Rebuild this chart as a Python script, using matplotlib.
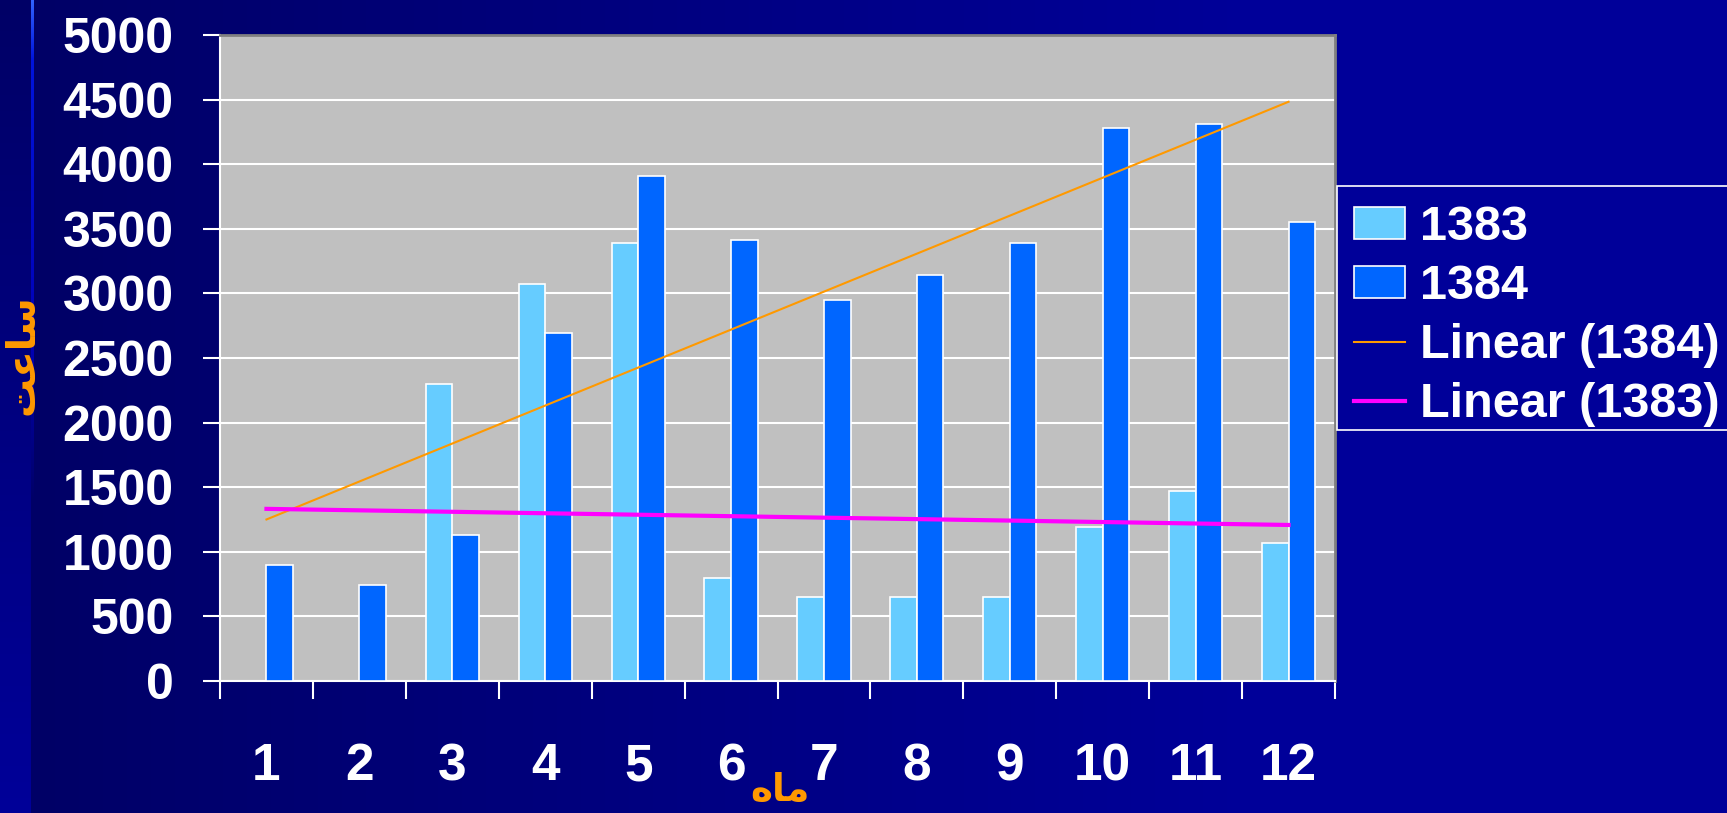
import numpy as np
import matplotlib.pyplot as plt
from matplotlib.patches import Rectangle

# monthly hours for the two years
months = np.arange(1, 13)
month_labels = [str(m) for m in months]
hours_1383 = np.array([0, 0, 2300, 3070, 3390, 800, 650, 650, 650, 1190, 1470, 1070])
hours_1384 = np.array([900, 740, 1130, 2690, 3910, 3410, 2950, 3140, 3390, 4280, 4310, 3550])
series_names = ["1383", "1384"]
trend_names = ["Linear (1384)", "Linear (1383)"]
y_ticks = np.arange(0, 5001, 500)

# axis titles, pre-shaped (Arabic presentation forms in visual order)
# because matplotlib does no shaping of its own
x_title = "\ufee9\ufe8e\ufee3"          # ماه
y_title = "\ufe96\ufecb\ufe8e\ufeb3"    # ساعت

W, H = 1727, 813
plt.rcParams["font.family"] = ["Liberation Sans", "DejaVu Sans"]


def draw_background(fig):
    """
    Slide-like background: dark navy fading to blue, with a side strip.
    """
    bg = fig.add_axes([0, 0, 1, 1], zorder=-10)
    xs = np.arange(W)
    ys = np.arange(H)
    blue = np.interp(xs, [31, 1250], [102, 153])
    img = np.zeros((H, W, 3))
    img[:, :, 2] = blue[None, :] / 255
    # side strip, brighter towards the bottom
    img[:, :31, 2] = np.interp(ys, [0, H], [102, 153])[:, None] / 255
    # thin highlight line next to the strip
    line_r = np.interp(ys, [0, 60, 350], [50, 0, 0]) / 255
    line_g = np.interp(ys, [0, 60, 350], [100, 20, 0]) / 255
    line_b = np.interp(ys, [0, 60, 350, 500], [255, 220, 180, 102]) / 255
    for col in range(31, 34):
        img[:, col, 0] = line_r
        img[:, col, 1] = line_g
        img[:, col, 2] = line_b
    bg.imshow(img, extent=(0, 1, 0, 1), aspect="auto", interpolation="nearest")
    bg.set_axis_off()


def plotter():
    """
    Grouped bars for both years plus linear trend lines.
    """
    fig = plt.figure(figsize=(W / 100, H / 100), dpi=100)
    draw_background(fig)

    ax = fig.add_axes([220 / W, 1 - 681 / H, 1115 / W, 646 / H])
    ax.set_facecolor("#C0C0C0")

    width = 1 / 3.5
    b83 = ax.bar(months - width / 2, hours_1383, width, color="#66CCFF",
                 edgecolor="white", linewidth=1.2, zorder=3, label=series_names[0])
    b84 = ax.bar(months + width / 2, hours_1384, width, color="#0066FF",
                 edgecolor="white", linewidth=1.2, zorder=3, label=series_names[1])

    # least squares trend lines
    fit84 = np.polyval(np.polyfit(months, hours_1384, 1), months)
    fit83 = np.polyval(np.polyfit(months, hours_1383, 1), months)
    l84, = ax.plot(months, fit84, color="#FF9900", lw=1.5, zorder=4)
    l83, = ax.plot(months, fit83, color="#FF00FF", lw=3, zorder=4)

    ax.set_xlim(0.5, 12.5)
    ax.set_ylim(0, 5000)
    ax.set_yticks(y_ticks)
    ax.set_xticks(months, month_labels)
    ax.set_xticks(np.arange(0.5, 13), minor=True)
    ax.yaxis.grid(True, color="white", lw=1.5)
    ax.set_axisbelow(True)

    ax.tick_params(axis="y", colors="white", length=12.5, width=1.5, pad=21,
                   labelsize=36)
    ax.tick_params(axis="x", which="major", colors="white", length=0, pad=44,
                   labelsize=37)
    ax.tick_params(axis="x", which="minor", colors="white", length=13, width=1.5)
    for lab in ax.get_xticklabels() + ax.get_yticklabels():
        lab.set_fontweight("bold")

    for side in ["left", "bottom"]:
        ax.spines[side].set_color("white")
        ax.spines[side].set_linewidth(1.5)
    for side in ["top", "right"]:
        ax.spines[side].set_color("#808080")
        ax.spines[side].set_linewidth(2)

    fig.text(22 / W, 1 - 355 / H, y_title, rotation=90, ha="center", va="center",
             color="#FF9900", fontsize=28, fontweight="bold", family=["DejaVu Sans"])
    fig.text(780 / W, 1 - 801 / H, x_title, ha="center", va="baseline",
             color="#FF9900", fontsize=27, fontweight="bold", family=["DejaVu Sans"])

    # legend box runs off the right edge, so draw the frame by hand
    fig.patches.append(Rectangle((1337 / W, 1 - 430 / H), 400 / W, 244 / H,
                                 transform=fig.transFigure, facecolor="#000099",
                                 edgecolor="white", lw=1.2, zorder=5))
    leg = fig.legend([b83, b84, l84, l83], series_names + trend_names,
                     loc="upper left", bbox_to_anchor=(1337 / W, 1 - 188 / H),
                     borderaxespad=0, frameon=False,
                     prop={"size": 35, "weight": "bold"}, labelcolor="white",
                     handlelength=1.05, handleheight=0.62, handletextpad=0.3,
                     labelspacing=0.29, borderpad=0.35)
    leg.set_zorder(6)

    fig.savefig("out.png", dpi=100)


def main():
    plotter()


if __name__ == '__main__':
    main()
